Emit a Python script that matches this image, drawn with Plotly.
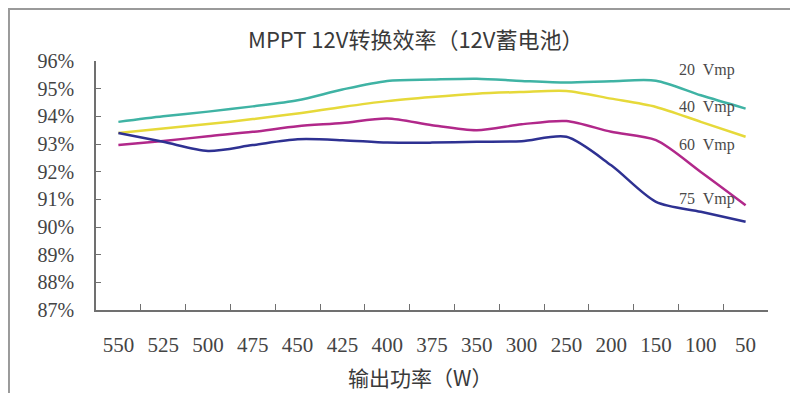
import plotly.graph_objects as go

# Output power categories (W), shown from high to low
power_labels = ["550", "525", "500", "475", "450", "425", "400", "375",
                "350", "300", "250", "200", "150", "100", "50"]

# Conversion efficiency (%)
eff_20vmp = [93.80, 94.00, 94.17, 94.36, 94.58, 94.97, 95.28, 95.33,
             95.36, 95.28, 95.22, 95.27, 95.29, 94.76, 94.28]
eff_40vmp = [93.40, 93.56, 93.72, 93.90, 94.10, 94.34, 94.55, 94.70,
             94.82, 94.88, 94.92, 94.64, 94.34, 93.80, 93.26]
eff_60vmp = [92.96, 93.11, 93.28, 93.44, 93.64, 93.76, 93.92, 93.68,
             93.50, 93.71, 93.83, 93.44, 93.14, 91.99, 90.79]
eff_75vmp = [93.40, 93.08, 92.75, 92.96, 93.17, 93.14, 93.05, 93.05,
             93.08, 93.10, 93.26, 92.23, 90.91, 90.55, 90.19]

series = [
    ("20 Vmp", eff_20vmp, "#3fb3a4", 95.66),
    ("40 Vmp", eff_40vmp, "#e6d93a", 94.34),
    ("60 Vmp", eff_60vmp, "#b1288a", 92.96),
    ("75 Vmp", eff_75vmp, "#2e3192", 91.00),
]

serif = "Liberation Serif, Times New Roman, serif"
sans = "Noto Sans CJK SC, Noto Sans, sans-serif"

fig = go.Figure()

for name, vals, color, label_y in series:
    fig.add_trace(go.Scatter(
        x=power_labels, y=vals, name=name, mode="lines",
        line=dict(color=color, width=2.5, shape="spline", smoothing=0.8),
    ))
    # label sits over the "100" category (index 13)
    fig.add_annotation(
        x=13, y=label_y, xref="x", yref="y", text=name.replace(" ", "&nbsp; "),
        showarrow=False, xanchor="center", xshift=6,
        font=dict(family=serif, size=16, color="#4a4a4a"),
    )

# x axis title placed as a paper annotation
fig.add_annotation(
    x=0.482, y=-0.268, xref="paper", yref="paper", text="输出功率（W）",
    showarrow=False, xanchor="center", yanchor="middle",
    font=dict(family=sans, size=21, color="#3a3a3a"),
)

# frame around the chart (scanned border)
fig.add_shape(type="rect", xref="paper", yref="paper",
              x0=-0.1295, x1=1.08, y0=-0.45, y1=1.2088,
              line=dict(color="#9a9a9a", width=2), layer="below")

fig.update_layout(
    width=798, height=393,
    margin=dict(l=88, r=38, t=53, b=91),
    paper_bgcolor="white", plot_bgcolor="white",
    showlegend=False,
    title=dict(text="MPPT 12V转换效率（12V蓄电池）", x=0.511, xanchor="center",
               y=0.9186, yanchor="middle",
               font=dict(family=sans, size=22, color="#3a3a3a")),
)

fig.update_xaxes(
    type="category", range=[-0.5, 14.5],
    showgrid=False, showline=True, linecolor="#707070", linewidth=1.5,
    ticks="inside", tickson="boundaries", ticklen=6, tickcolor="#707070",
    tickfont=dict(family=serif, size=21, color="#444444"),
    ticklabelstandoff=15,
)

fig.update_yaxes(
    range=[87, 96], dtick=1, ticksuffix="%",
    showgrid=False, zeroline=False, showline=True, linecolor="#707070",
    linewidth=1.5, ticks="inside", ticklen=5, tickcolor="#707070",
    tickfont=dict(family=serif, size=20, color="#444444"),
    ticklabelstandoff=16,
)

fig.write_html("out.html")
